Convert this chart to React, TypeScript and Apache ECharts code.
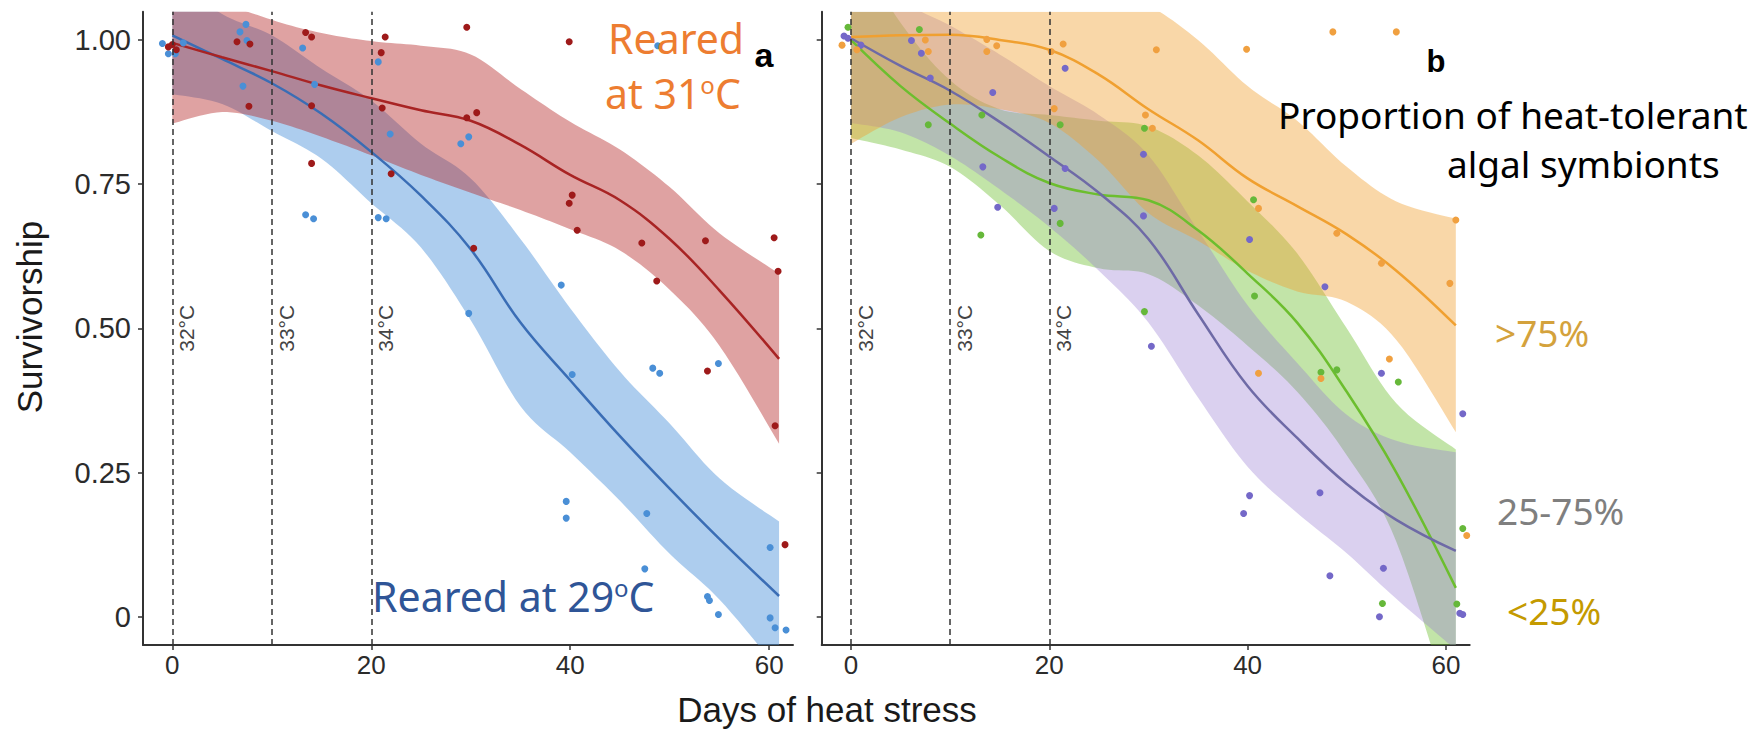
import React, { useEffect, useRef } from 'react';
import * as echarts from 'echarts';

// ---------- shared ----------
const bandDays = [0, 5, 10, 15, 20, 25, 30, 35, 40, 45, 50, 55, 61];
const xTicks = [0, 20, 40, 60];
const yTicks = [0, 0.25, 0.5, 0.75, 1];
const stressDays = [0, 10, 20];
const stressLabels = ['32°C', '33°C', '34°C'];

// ---------- panel a ----------
const fit31 = [0.995, 0.97, 0.946, 0.921, 0.899, 0.878, 0.86, 0.818, 0.766, 0.722, 0.655, 0.566, 0.447];
const upper31 = [1.14, 1.07, 1.035, 1.012, 0.998, 0.99, 0.975, 0.915, 0.858, 0.81, 0.745, 0.665, 0.595];
const lower31 = [0.855, 0.875, 0.86, 0.832, 0.8, 0.766, 0.735, 0.705, 0.672, 0.635, 0.567, 0.47, 0.3];

const fit29 = [1.008, 0.967, 0.925, 0.872, 0.806, 0.73, 0.637, 0.51, 0.41, 0.313, 0.222, 0.135, 0.036];
const upper29 = [1.11, 1.045, 1.008, 0.95, 0.895, 0.82, 0.76, 0.655, 0.535, 0.425, 0.335, 0.24, 0.165];
const lower29 = [0.906, 0.889, 0.842, 0.794, 0.717, 0.64, 0.514, 0.365, 0.285, 0.201, 0.109, 0.03, -0.093];

const points29: [number, number][] = [
  [-1.0, 0.994], [-0.4, 0.976], [0.3, 0.976], [1.1, 0.995], [6.8, 1.014], [7.4, 1.027], [7.5, 0.999], [7.1, 0.92],
  [13.1, 0.986], [14.3, 0.923], [13.4, 0.697], [14.2, 0.69], [20.7, 0.962], [21.9, 0.837], [20.7, 0.692], [21.5, 0.69],
  [29.0, 0.82], [29.8, 0.832], [29.8, 0.526], [39.1, 0.575], [40.2, 0.42], [39.6, 0.2], [39.6, 0.171],
  [47.7, 0.179], [47.5, 0.083], [48.3, 0.431], [49.0, 0.422], [48.8, 0.99], [53.8, 0.035], [54.0, 0.028],
  [54.9, 0.004], [54.9, 0.439], [60.1, 0.12], [60.1, -0.002], [60.6, -0.019], [61.7, -0.023],
];
const points31: [number, number][] = [
  [-0.4, 0.988], [0.0, 0.992], [0.4, 0.983], [6.5, 0.997], [7.8, 0.993], [7.7, 0.885], [13.4, 1.013], [14.0, 1.005],
  [14.0, 0.886], [14.0, 0.786], [21.4, 1.005], [21.0, 0.978], [21.1, 0.882], [22.0, 0.768], [29.6, 1.022], [29.6, 0.865],
  [30.6, 0.874], [30.3, 0.639], [39.9, 0.997], [39.9, 0.717], [40.2, 0.731], [40.7, 0.67], [47.2, 0.648], [48.7, 0.582],
  [53.6, 0.652], [53.8, 0.426], [60.5, 0.657], [60.9, 0.599], [60.6, 0.331], [61.6, 0.125],
];

// ---------- panel b ----------
const fitHigh = [1.005, 1.008, 1.009, 1.0, 0.983, 0.94, 0.88, 0.826, 0.76, 0.712, 0.663, 0.6, 0.505];
const upperHigh = [1.19, 1.15, 1.13, 1.12, 1.11, 1.09, 1.06, 1.0, 0.92, 0.86, 0.78, 0.72, 0.69];
const lowerHigh = [0.82, 0.866, 0.888, 0.88, 0.856, 0.79, 0.7, 0.652, 0.6, 0.564, 0.546, 0.48, 0.32];

const fitMid = [1.003, 0.955, 0.912, 0.858, 0.798, 0.735, 0.655, 0.525, 0.4, 0.31, 0.23, 0.168, 0.114];
const upperMid = [1.15, 1.07, 1.025, 0.975, 0.92, 0.87, 0.8, 0.67, 0.54, 0.44, 0.35, 0.305, 0.285];
const lowerMid = [0.856, 0.84, 0.799, 0.741, 0.676, 0.6, 0.51, 0.38, 0.26, 0.18, 0.11, 0.031, -0.057];

const fitLow = [1.0, 0.92, 0.855, 0.797, 0.752, 0.732, 0.722, 0.67, 0.595, 0.51, 0.39, 0.25, 0.05];
const upperLow = [1.17, 1.03, 0.93, 0.88, 0.87, 0.86, 0.85, 0.8, 0.72, 0.63, 0.5, 0.37, 0.29];
const lowerLow = [0.83, 0.81, 0.78, 0.714, 0.634, 0.604, 0.594, 0.54, 0.47, 0.39, 0.28, 0.13, -0.19];

const pointsHigh: [number, number][] = [
  [-0.9, 0.991], [0.6, 0.983], [7.5, 1.0], [7.8, 0.98], [13.7, 1.001], [13.7, 0.98], [14.7, 0.99], [20.2, 0.98],
  [21.4, 0.993], [20.5, 0.881], [29.7, 0.87], [30.4, 0.847], [30.8, 0.983], [39.9, 0.984], [41.1, 0.708], [41.1, 0.422],
  [47.4, 0.413], [48.6, 1.014], [49.0, 0.665], [53.5, 0.613], [54.3, 0.447], [55.0, 1.014], [60.4, 0.578], [61.0, 0.688],
  [62.1, 0.141],
];
const pointsLow: [number, number][] = [
  [-0.3, 1.022], [6.9, 1.018], [7.8, 0.853], [13.2, 0.87], [13.1, 0.662], [21.1, 0.853], [21.1, 0.682], [29.6, 0.847],
  [29.6, 0.529], [40.6, 0.723], [40.7, 0.556], [47.4, 0.424], [49.0, 0.428], [53.6, 0.023], [55.2, 0.407], [61.1, 0.022],
  [61.7, 0.153],
];
const pointsMid: [number, number][] = [
  [-0.7, 1.007], [-0.3, 1.003], [1.0, 0.991], [6.1, 0.999], [7.1, 0.977], [8.0, 0.934], [13.3, 0.78], [14.3, 0.909],
  [14.8, 0.71], [20.5, 0.708], [21.6, 0.951], [21.6, 0.777], [29.5, 0.802], [29.5, 0.695], [30.3, 0.469], [39.6, 0.179],
  [40.2, 0.21], [40.2, 0.654], [47.3, 0.215], [47.8, 0.572], [48.3, 0.071], [53.3, 0.0], [53.5, 0.422], [53.7, 0.084],
  [61.4, 0.006], [61.7, 0.004], [61.7, 0.352],
];

const AX = '#333333';

// Catmull-Rom smoothing of pixel points (rendering only)
function smoothPx(p: number[][], samples = 10): number[][] {
  const out: number[][] = [];
  const n = p.length;
  for (let i = 0; i < n - 1; i++) {
    const p0 = p[Math.max(0, i - 1)], p1 = p[i], p2 = p[i + 1], p3 = p[Math.min(n - 1, i + 2)];
    for (let s = 0; s < samples; s++) {
      const t = s / samples, t2 = t * t, t3 = t2 * t;
      const f = (k: number) =>
        0.5 * (2 * p1[k] + (-p0[k] + p2[k]) * t + (2 * p0[k] - 5 * p1[k] + 4 * p2[k] - p3[k]) * t2 +
          (-p0[k] + 3 * p1[k] - 3 * p2[k] + p3[k]) * t3);
      out.push([f(0), f(1)]);
    }
  }
  out.push(p[n - 1]);
  return out;
}

function bandSeries(axis: number, lower: number[], upper: number[], color: string, opacity: number, z: number) {
  return {
    type: 'custom', xAxisIndex: axis, yAxisIndex: axis, data: [[0, 0]], silent: true, z, clip: true,
    renderItem: (params: any, api: any) => {
      const up = bandDays.map((d, i) => api.coord([d, upper[i]]));
      const lo = bandDays.map((d, i) => api.coord([d, lower[i]]));
      const pts = [...smoothPx(up), ...smoothPx(lo).reverse()];
      const cs = params.coordSys;
      return {
        type: 'polygon', silent: true,
        shape: { points: pts },
        style: { fill: color, opacity, stroke: 'none' },
        clipPath: { type: 'rect', shape: { x: cs.x, y: cs.y, width: cs.width, height: cs.height } },
      };
    },
  };
}

function fitSeries(axis: number, fit: number[], color: string) {
  return {
    type: 'line', xAxisIndex: axis, yAxisIndex: axis, data: bandDays.map((d, i) => [d, fit[i]]),
    smooth: 0.4, symbol: 'none', silent: true, z: 3, lineStyle: { color, width: 2.5 },
  };
}

function pointSeries(axis: number, pts: [number, number][], color: string, withLines = false) {
  const s: any = {
    type: 'scatter', xAxisIndex: axis, yAxisIndex: axis, data: pts, symbolSize: 7, silent: true, z: 4,
    itemStyle: { color, opacity: 1 },
  };
  if (withLines) {
    s.markLine = {
      silent: true, symbol: ['none', 'none'], animation: false,
      lineStyle: { color: AX, width: 1.5, type: [6, 4], opacity: 1 },
      label: {
        show: true, position: 'insideMiddleBottom', formatter: '{b}', fontSize: 21,
        color: '#444', fontFamily: 'Liberation Sans', distance: 4,
      },
      data: stressDays.map((d, i) => ({ name: stressLabels[i], xAxis: d })),
    };
  }
  return s;
}

function xAxis(idx: number) {
  return {
    type: 'value', gridIndex: idx, min: -2.95, max: 62.4,
    axisLine: { show: true, onZero: false, lineStyle: { color: AX, width: 2 } },
    axisTick: { show: true, length: 5, customValues: xTicks, lineStyle: { color: AX, width: 1.5 } },
    axisLabel: { show: true, customValues: xTicks, fontSize: 26, color: '#2b2b2b', margin: 7, fontFamily: 'Liberation Sans' },
    splitLine: { show: false },
  };
}
function yAxis(idx: number, labels: boolean) {
  return {
    type: 'value', gridIndex: idx, min: -0.049, max: 1.049,
    axisLine: { show: true, onZero: false, lineStyle: { color: AX, width: 2 } },
    axisTick: { show: true, length: 5, customValues: yTicks, lineStyle: { color: AX, width: 1.5 } },
    axisLabel: {
      show: labels, customValues: yTicks, fontSize: 29, color: '#2b2b2b', margin: 12, fontFamily: 'Liberation Sans',
      formatter: (v: number) => (v === 0 ? '0' : v.toFixed(2)),
    },
    splitLine: { show: false },
  };
}

const note = 'Noto Sans';
function txt(x: number, y: number, text: string, font: string, fill: string, extra: any = {}) {
  const { style, ...rest } = extra;
  return { type: 'text', x, y, silent: true, z: 10, ...rest, style: { text, font, fill, verticalAlign: 'middle', align: 'left', ...(style || {}) } };
}

export default function App() {
  const ref = useRef<HTMLDivElement>(null);
  useEffect(() => {
    if (!ref.current) return;
    const chart = echarts.init(ref.current, undefined, { renderer: 'svg' });
    const supOrange = { s: { font: `24px "${note}"`, fill: '#ED7D31', verticalAlign: 'top' } };
    const supBlue = { s: { font: `24px "${note}"`, fill: '#2F5597', verticalAlign: 'top' } };
    chart.setOption({
      animation: false,
      backgroundColor: '#ffffff',
      grid: [
        { left: 143, top: 11.7, width: 650, height: 633.3, containLabel: false, outerBoundsMode: 'none' },
        { left: 821.7, top: 11.7, width: 648, height: 633.3, containLabel: false, outerBoundsMode: 'none' },
      ],
      xAxis: [xAxis(0), xAxis(1)],
      yAxis: [yAxis(0, true), yAxis(1, false)],
      series: [
        bandSeries(0, lower29, upper29, '#4A90D9', 0.45, 1),
        bandSeries(0, lower31, upper31, '#B22222', 0.42, 2),
        fitSeries(0, fit29, '#3A6DB5'),
        fitSeries(0, fit31, '#A82424'),
        pointSeries(0, points29, '#4A8FD6', true),
        pointSeries(0, points31, '#9E1A1A'),

        bandSeries(1, lowerLow, upperLow, '#6DBF30', 0.42, 1),
        bandSeries(1, lowerMid, upperMid, '#9678D2', 0.35, 1),
        bandSeries(1, lowerHigh, upperHigh, '#F0A030', 0.42, 2),
        fitSeries(1, fitLow, '#6CBE2E'),
        fitSeries(1, fitMid, '#6E6AA6'),
        fitSeries(1, fitHigh, '#F0A030'),
        pointSeries(1, pointsMid, '#7468C8', true),
        pointSeries(1, pointsLow, '#66B83A'),
        pointSeries(1, pointsHigh, '#F0A040'),
      ],
      graphic: [
        txt(29, 317, 'Survivorship', '35px "Liberation Sans"', '#1a1a1a', { rotation: Math.PI / 2, style: { align: 'center' } }),
        txt(827, 709, 'Days of heat stress', '35px "Liberation Sans"', '#1a1a1a', { style: { align: 'center' } }),
        txt(608, 38, 'Reared', `41px "${note}"`, '#ED7D31'),
        txt(605, 93, 'at 31{s|o}C', `41px "${note}"`, '#ED7D31', { style: { rich: supOrange } }),
        txt(372, 596, 'Reared at 29{s|o}C', `41px "${note}"`, '#2F5597', { style: { rich: supBlue } }),
        txt(764, 55, 'a', 'bold 34px "Liberation Sans"', '#000000', { style: { align: 'center' } }),
        txt(1436, 61, 'b', 'bold 31px "Liberation Sans"', '#000000', { style: { align: 'center' } }),
        txt(1278, 114, 'Proportion of heat-tolerant', `37px "${note}"`, '#000000'),
        txt(1447, 163, 'algal symbionts', `37px "${note}"`, '#000000'),
        txt(1495, 332, '>75%', `37px "${note}"`, '#D4A23C'),
        txt(1497, 510, '25-75%', `37px "${note}"`, '#7F7F7F'),
        txt(1507, 610, '<25%', `37px "${note}"`, '#C49A00'),
      ],
    });
    return () => chart.dispose();
  }, []);
  return (
    <div
      ref={ref}
      style={{ position: 'fixed', left: 0, top: 0, width: 1755, height: 730, background: '#ffffff' }}
    />
  );
}
